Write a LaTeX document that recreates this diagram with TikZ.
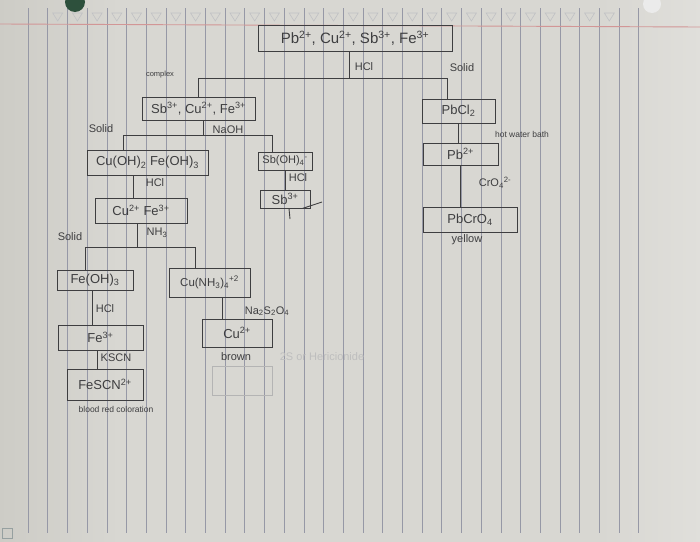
\documentclass[tikz,border=0pt]{standalone}
\usepackage{fontspec}
\setmainfont{Liberation Sans}
\definecolor{ink}{RGB}{62,62,64}
\definecolor{paper}{RGB}{216,215,210}
\definecolor{paperL}{RGB}{205,204,198}
\definecolor{paperR}{RGB}{224,223,219}
\definecolor{rulec}{RGB}{150,152,166}
\definecolor{redline}{RGB}{210,150,150}
\definecolor{trig}{RGB}{192,193,196}
\definecolor{dgreen}{RGB}{45,80,60}
\definecolor{blob}{RGB}{235,235,235}
\definecolor{icon}{RGB}{150,160,160}
\definecolor{ghost}{RGB}{190,190,190}
\definecolor{ghostbox}{RGB}{180,180,180}
\begin{document}
\begin{tikzpicture}[x=1pt,y=-1pt,
  box/.style={draw=ink, line width=0.9pt, inner sep=0pt, text=ink, font=\fontsize{13}{13}\selectfont},
  lab/.style={text=ink, inner sep=0pt, font=\fontsize{11}{11}\selectfont},
  small/.style={text=ink, inner sep=0pt, font=\fontsize{7.5}{7.5}\selectfont},
  conn/.style={draw=ink, line width=0.9pt}]
\useasboundingbox (0,0) rectangle (700,541);
% paper
\fill[paper] (-2,-2) rectangle (702,543);
\shade[left color=paperL, right color=paper] (-2,-2) rectangle (120,543);
\shade[left color=paper, right color=paperR] (600,-2) rectangle (702,543);
\foreach \i in {0,...,31} \draw[rulec, line width=0.6pt] ({28+19.7*\i},8) -- ({28+19.7*\i},533);
\foreach \i in {1,...,29} \draw[trig, line width=0.6pt] ({33+19.7*\i},13) -- ++(10,0) -- ++(-5,8) -- cycle;
\draw[redline, line width=0.9pt] (0,24) -- (700,27);
\fill[dgreen] (75,2) circle (10);
\fill[blob] (652,4) circle (9);
\draw[icon, line width=0.6pt] (2,528) rectangle (12,538);

% boxes
\node[box, minimum width=194pt, minimum height=26pt, font=\fontsize{15}{15}\selectfont] (top) at (355,38) {Pb\textsuperscript{2+}, Cu\textsuperscript{2+}, Sb\textsuperscript{3+}, Fe\textsuperscript{3+}};
\node[box, minimum width=113pt, minimum height=23pt] (sbmix) at (198.5,108.5) {Sb\textsuperscript{3+}, Cu\textsuperscript{2+}, Fe\textsuperscript{3+}};
\node[box, minimum width=121pt, minimum height=25pt] (cuoh) at (147.5,162.5) {Cu(OH)\textsubscript{2} Fe(OH)\textsubscript{3}};
\node[box, minimum width=54pt, minimum height=18pt, font=\fontsize{11}{11}\selectfont] (sboh) at (285,161) {Sb(OH)\textsubscript{4}\textsuperscript{-}};
\node[box, minimum width=50pt, minimum height=18pt] (sb3) at (285,199) {Sb\textsuperscript{3+}};
\node[box, minimum width=92pt, minimum height=25pt] (cufe) at (141,210.5) {Cu\textsuperscript{2+} Fe\textsuperscript{3+}};
\node[box, minimum width=76pt, minimum height=20pt] (feoh) at (95,280) {Fe(OH)\textsubscript{3}};
\node[box, minimum width=81pt, minimum height=29pt, font=\fontsize{11.5}{11.5}\selectfont] (cunh) at (209.5,282.5) {Cu(NH\textsubscript{3})\textsubscript{4}\textsuperscript{+2}};
\node[box, minimum width=85pt, minimum height=25pt] (fe3) at (100.5,337.5) {Fe\textsuperscript{3+}};
\node[box, minimum width=70pt, minimum height=28pt] (cu2) at (237,333) {Cu\textsuperscript{2+}};
\node[box, minimum width=76pt, minimum height=31pt] (fescn) at (105,384.5) {FeSCN\textsuperscript{2+}};
\node[box, minimum width=73pt, minimum height=24pt] (pbcl2) at (458.5,111) {PbCl\textsubscript{2}};
\node[box, minimum width=75pt, minimum height=22pt] (pb2) at (460.5,154) {Pb\textsuperscript{2+}};
\node[box, minimum width=94pt, minimum height=25pt] (pbcro4) at (470,219.5) {PbCrO\textsubscript{4}};

% junctions
\coordinate (j1) at (349,78);
\coordinate (j1l) at (198.5,78);
\coordinate (j1r) at (447,78);
\coordinate (j2) at (203,135);
\coordinate (j2l) at (123,135);
\coordinate (j2r) at (272,135);
\coordinate (j3) at (137,247);
\coordinate (j3l) at (85,247);
\coordinate (j3r) at (195,247);
\coordinate (t1) at (322,202);
\coordinate (t2) at (290,219);

% connectors
\draw[conn] (top.south -| j1) -- (j1);
\draw[conn] (sbmix.north) -- (j1l) -- (j1r) -- (j1r |- pbcl2.north);
\draw[conn] (sbmix.south -| j2) -- (j2);
\draw[conn] (j2l |- cuoh.north) -- (j2l) -- (j2r) -- (j2r |- sboh.north);
\draw[conn] (cuoh.south -| 133,0) -- (cufe.north -| 133,0);
\draw[conn] (sboh.south) -- (sb3.north);
\draw[conn] (sb3.south east) ++(-8,0) -- (t1);
\draw[conn] (sb3.south) ++(4,0) -- (t2);
\draw[conn] (cufe.south -| j3) -- (j3);
\draw[conn] (j3l |- feoh.north) -- (j3l) -- (j3r) -- (j3r |- cunh.north);
\draw[conn] (feoh.south -| 92,0) -- (fe3.north -| 92,0);
\draw[conn] (cunh.south -| 222,0) -- (cu2.north -| 222,0);
\draw[conn] (fe3.south -| 97,0) -- (fescn.north -| 97,0);
\draw[conn] (pbcl2.south -| 458,0) -- (pb2.north -| 458,0);
\draw[conn] (pb2.south -| 460,0) -- (pbcro4.north -| 460,0);

% labels
\node[lab] (l1) at (364,67) {HCl};
\node[lab] (l2) at (462,68) {Solid};
\node[small] (l3) at (160,75) {complex};
\node[lab] (l4) at (101,129) {Solid};
\node[lab] (l5) at (228,130) {NaOH};
\node[lab] (l6) at (155,183) {HCl};
\node[lab] (l7) at (298,178) {HCl};
\node[lab] (l8) at (70,237) {Solid};
\node[lab] (l9) at (157,233) {NH\textsubscript{3}};
\node[lab] (l10) at (105,309) {HCl};
\node[lab] (l11) at (267,311) {Na\textsubscript{2}S\textsubscript{2}O\textsubscript{4}};
\node[lab] (l12) at (116,358) {KSCN};
\node[lab] (l13) at (236,357) {brown};
\node[lab, text=ghost] (l14) at (322,357) {2S or Hericionide};
\node[small, font=\fontsize{8.5}{8.5}\selectfont] (l15) at (116,409) {blood red coloration};
\node[small, font=\fontsize{8.5}{8.5}\selectfont] (l16) at (522,134) {hot water bath};
\node[lab, font=\fontsize{11}{11}\selectfont] (l17) at (495,183) {CrO\textsubscript{4}\textsuperscript{2-}};
\node[lab] (l18) at (467,240) {yellow};
\draw[ghostbox, line width=0.6pt] (212,366) rectangle (272,395);
\end{tikzpicture}
\end{document}
